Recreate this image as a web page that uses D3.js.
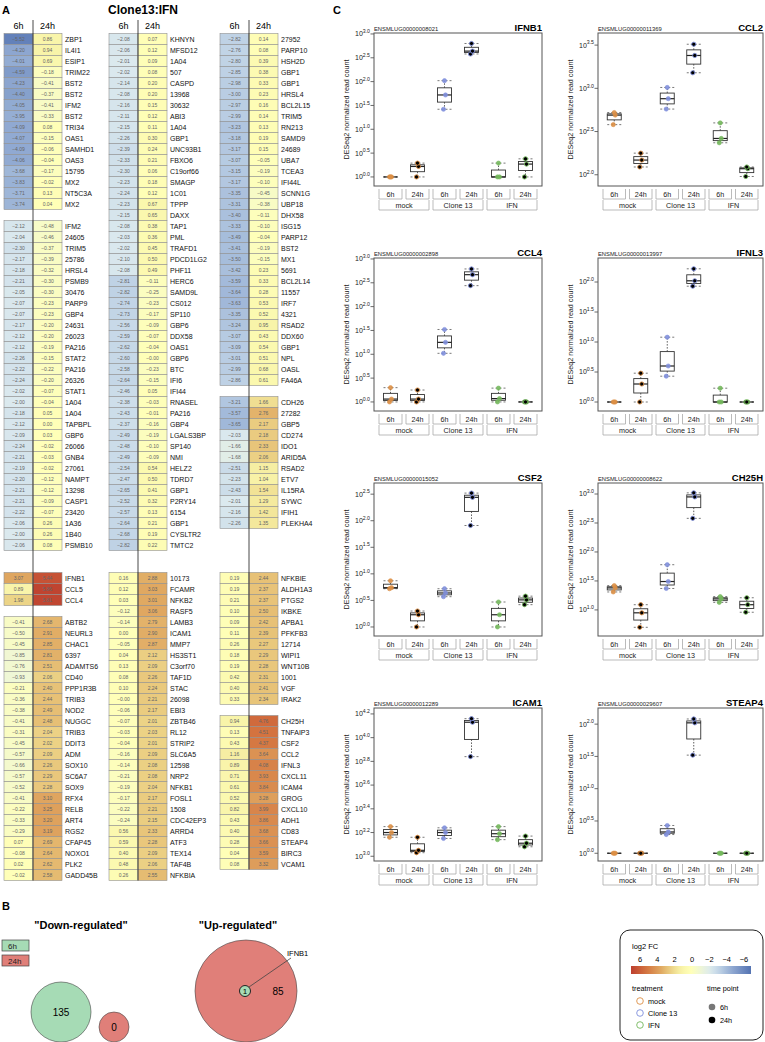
<!DOCTYPE html>
<html><head><meta charset="utf-8">
<script src="https://cdn.jsdelivr.net/npm/d3@7"></script>
<style>body{margin:0;background:#fff} svg{font-family:"Liberation Sans",Arial,sans-serif}</style>
</head><body><svg id="c" width="765" height="1042"></svg>
<script>
// ---------------- DATA ----------------
// Heatmap (log2 FC Clone13 vs IFN), null = blank row
const hmGenes1 = ["ZBP1","IL4I1","ESIP1","TRIM22","BST2","BST2","IFM2","BST2","TRI34","OAS1","SAMHD1","OAS3","15795","MX2","NT5C3A","MX2", null,
"IFM2","24605","TRIM5","25786","HRSL4","PSMB9","30476","PARP9","GBP4","24631","26023","PA216","STAT2","PA216","26326","STAT1","1A04","1A04","TAPBPL","GBP6","26066","GNB4","27061","NAMPT","13298","CASP1","23420","1A36","1B40","PSMB10", null, null,
"IFNB1","CCL5","CCL4", null,
"ABTB2","NEURL3","CHAC1","6397","ADAMTS6","CD40","PPP1R3B","TRIB3","NOD2","NUGGC","TRIB3","DDIT3","ADM","SOX10","SC6A7","SOX9","RFX4","RELB","ART4","RGS2","CFAP45","NOXO1","PLK2","GADD45B"];
const hmFc6h1 = [-5.52,-4.20,-4.01,-4.59,-4.23,-4.40,-4.05,-3.95,-4.09,-4.07,-4.09,-4.06,-3.68,-3.83,-3.71,-3.74, null,
-2.12,-2.04,-2.30,-2.17,-2.18,-2.21,-2.05,-2.07,-2.07,-2.17,-2.12,-2.12,-2.26,-2.22,-2.24,-2.02,-2.00,-2.18,-2.12,-2.09,-2.24,-2.21,-2.19,-2.20,-2.21,-2.21,-2.22,-2.06,-2.00,-2.06, null, null,
3.07,0.89,1.98, null,
-0.41,-0.50,-0.45,-0.85,-0.76,-0.93,-0.21,-0.36,-0.38,-0.41,-0.31,-0.45,-0.57,-0.66,-0.57,-0.52,-0.41,-0.22,-0.33,-0.29,0.07,-0.08,0.02,-0.02];
const hmFc24h1 = [0.86,0.94,0.69,-0.18,-0.41,-0.37,-0.41,-0.33,0.08,-0.15,-0.06,-0.04,-0.17,-0.02,0.13,0.04, null,
-0.48,-0.46,-0.37,-0.39,-0.32,-0.30,-0.30,-0.23,-0.23,-0.20,-0.20,-0.19,-0.15,-0.22,-0.20,-0.07,-0.04,0.05,0.00,0.03,-0.02,-0.03,-0.02,-0.12,-0.12,-0.09,-0.07,0.26,0.26,0.08, null, null,
5.44,5.86,5.81, null,
2.68,2.91,2.85,2.81,2.51,2.06,2.40,2.44,2.49,2.48,2.04,2.02,2.09,2.26,2.29,2.28,3.10,3.25,3.20,3.19,2.69,2.64,2.62,2.58];

const hmGenes2 = ["KHNYN","MFSD12","1A04","507","CASPD","13968","30632","ABI3","1A04","GBP1","UNC93B1","FBXO6","C19orf66","SMAGP","1C01","TPPP","DAXX","TAP1","PML","TRAFD1","PDCD1LG2","PHF11","HERC6","SAMD9L","CS012","SP110","GBP6","DDX58","OAS1","GBP6","BTC","IFI6","IFI44","RNASEL","PA216","GBP4","LGALS3BP","SP140","NMI","HELZ2","TDRD7","GBP1","P2RY14","6154","GBP1","CYSLTR2","TMTC2", null, null,
"10173","FCAMR","NFKB2","RASF5","LAMB3","ICAM1","MMP7","HS3ST1","C3orf70","TAF1D","STAC","26098","EBI3","ZBTB46","RL12","STRIP2","SLC6A5","12598","NRP2","NFKB1","FOSL1","1508","CDC42EP3","ARRD4","ATF3","TEX14","TAF4B","NFKBIA"];
const hmFc6h2 = [-2.08,-2.06,-2.01,-2.02,-2.14,-2.08,-2.16,-2.11,-2.15,-2.26,-2.39,-2.33,-2.30,-2.23,-2.24,-2.23,-2.15,-2.08,-2.03,-2.02,-2.10,-2.08,-2.81,-2.82,-2.74,-2.73,-2.56,-2.59,-2.62,-2.60,-2.58,-2.64,-2.46,-2.38,-2.43,-2.37,-2.49,-2.48,-2.49,-2.54,-2.47,-2.65,-2.52,-2.57,-2.64,-2.68,-2.82, null, null,
0.16,0.12,0.03,-0.12,-0.14,0.00,-0.05,0.04,0.13,0.08,0.10,-0,-0.06,-0.07,-0.03,-0.04,-0.16,-0.14,-0.21,-0.19,-0.17,-0.22,-0.24,0.56,0.59,0.40,0.48,0.26];
const hmFc24h2 = [0.07,0.12,0.09,0.08,0.20,0.20,0.15,0.12,0.11,0.30,0.24,0.21,0.06,0.18,0.12,0.67,0.65,0.38,0.36,0.45,0.50,0.49,-0.11,-0.25,-0.23,-0.17,-0.09,-0.07,-0.04,-0,-0.23,-0.15,0.05,-0.03,-0.01,-0.16,-0.19,-0.10,-0.09,0.54,0.50,0.41,0.32,0.13,0.21,0.19,0.22, null, null,
2.88,3.03,3.01,3.06,2.79,2.90,2.87,2.12,2.09,2.26,2.24,2.21,2.17,2.01,2.03,2.01,2.09,2.08,2.08,2.04,2.17,2.21,2.15,2.33,2.28,2.09,2.06,2.55];

const hmGenes3 = ["27952","PARP10","HSH2D","GBP1","GBP1","HRSL4","BCL2L15","TRIM5","RN213","SAMD9","24689","UBA7","TCEA3","IFI44L","SCNN1G","UBP18","DHX58","ISG15","PARP12","BST2","MX1","5691","BCL2L14","11557","IRF7","4321","RSAD2","DDX60","GBP1","NPL","OASL","FA46A", null,
"CDH26","27282","GBP5","CD274","IDO1","ARID5A","RSAD2","ETV7","IL15RA","SYWC","IFIH1","PLEKHA4", null, null, null, null,
"NFKBIE","ALDH1A3","PTGS2","IKBKE","APBA1","PFKFB3","12714","WIPI1","WNT10B","1001","VGF","IRAK2", null,
"CH25H","TNFAIP3","CSF2","CCL2","IFNL3","CXCL11","ICAM4","GROG","CXCL10","ADH1","CD83","STEAP4","BIRC3","VCAM1"];
const hmFc6h3 = [-2.82,-2.76,-2.80,-2.85,-2.98,-3.00,-2.97,-2.99,-3.23,-3.18,-3.17,-3.07,-3.15,-3.17,-3.35,-3.31,-3.40,-3.33,-3.49,-3.41,-3.50,-3.42,-3.59,-3.64,-3.63,-3.35,-3.24,-3.07,-3.09,-3.01,-2.99,-2.86, null,
-3.21,-3.57,-3.65,-2.03,-1.66,-1.68,-2.51,-2.23,-2.43,-2.01,-2.16,-2.26, null, null, null, null,
0.19,0.19,0.21,0.10,0.09,0.11,0.26,0.18,0.19,0.42,0.40,0.33, null,
0.94,0.13,0.43,1.16,0.89,0.71,0.61,0.52,0.82,0.43,0.40,0.28,0.04,0.08];
const hmFc24h3 = [0.14,0.08,0.39,0.38,0.33,0.23,0.16,0.14,0.13,0.19,0.15,-0.05,-0.19,-0.10,-0.45,-0.38,-0.11,-0.10,-0.04,-0.19,-0.15,0.23,0.33,0.28,0.53,0.52,0.95,0.43,0.54,0.51,0.68,0.61, null,
1.66,2.76,2.17,2.18,2.33,2.06,1.15,1.04,1.54,1.29,1.42,1.35, null, null, null, null,
2.44,2.37,2.37,2.50,2.42,2.39,2.27,2.29,2.28,2.31,2.41,2.34, null,
4.76,4.51,4.37,3.64,4.08,3.93,3.84,3.28,3.99,3.86,3.68,3.66,3.59,3.32];

const hmTimePoints = ["6h", "24h"];
const legendFcTicks = [6, 4, 2, 0, -2, -4, -6];

// Box plot panels: log10 DESeq2 normalized read counts, 3 replicates per group
const treatments = ["mock", "Clone 13", "IFN"];
const timePoints = ["6h", "24h"];
const panelNames = ["IFNB1","CCL2","CCL4","IFNL3","CSF2","CH25H","ICAM1","STEAP4"];
const panelIds = ["ENSMLUG00000008021","ENSMLUG00000011369","ENSMLUG00000002898","ENSMLUG00000013997","ENSMLUG00000015052","ENSMLUG00000008622","ENSMLUG00000012289","ENSMLUG00000029607"];
const panelYMin = [-0.19, 1.87, -0.19, -0.15, -0.17, 0.55, 2.96, -0.12];
const panelYMax = [3.02, 3.64, 3.02, 2.40, 2.71, 3.19, 4.25, 2.25];
const panelTicks = [
  [0,0.5,1,1.5,2,2.5,3],
  [2,2.5,3,3.5],
  [0,0.5,1,1.5,2,2.5,3],
  [0,0.5,1,1.5,2],
  [0,0.5,1,1.5,2,2.5],
  [1,1.5,2,2.5,3],
  [3,3.2,3.4,3.6,3.8,4,4.2],
  [0,0.5,1,1.5,2]
];
// group order: mock 6h, mock 24h, Clone13 6h, Clone13 24h, IFN 6h, IFN 24h
const valsIFNB1 = [[0,0,0],[0,0.22,0.29],[1.42,1.72,2.02],[2.58,2.64,2.80],[0,0,0.29],[0,0.27,0.38]];
const valsCCL2  = [[2.58,2.69,2.72],[2.09,2.17,2.25],[2.76,2.88,3.01],[3.18,3.38,3.51],[2.37,2.42,2.60],[1.98,2.07,2.09]];
const valsCCL4  = [[0,0.06,0.30],[0,0.06,0.25],[1.02,1.25,1.52],[2.44,2.67,2.79],[0,0.07,0.29],[0,0,0]];
const valsIFNL3 = [[0,0,0],[0,0.30,0.48],[0.43,0.60,1.08],[1.93,2.02,2.22],[0,0,0.23],[0,0,0]];
const valsCSF2  = [[0.72,0.74,0.87],[0,0.23,0.30],[0.57,0.64,0.72],[1.91,2.44,2.52],[0,0.23,0.47],[0.42,0.51,0.58]];
const valsCH25H = [[1.31,1.38,1.42],[0.70,0.95,1.09],[1.37,1.49,1.78],[2.58,2.95,3.02],[1.13,1.19,1.23],[0.96,1.09,1.21]];
const valsICAM1 = [[3.16,3.20,3.25],[3.03,3.05,3.16],[3.15,3.20,3.24],[3.84,4.13,4.16],[3.14,3.19,3.25],[3.08,3.11,3.17]];
const valsSTEAP4= [[0,0,0],[0,0,0],[0.29,0.33,0.43],[1.52,2.02,2.08],[0,0,0],[0,0,0]];
const panelVals = [valsIFNB1, valsCCL2, valsCCL4, valsIFNL3, valsCSF2, valsCH25H, valsICAM1, valsSTEAP4];

// Venn counts
const vennDownLabels = ["6h", "24h"];
const vennDown = [135, 0];
const vennUp6h = 1, vennUp24h = 85;
const vennUpSharedGene = "IFNB1";

// ---------------- DRAWING ----------------
const svg = d3.select("#c");
const treatColors = ["#dc8f45", "#7f8fdb", "#74b85c"];
const fcColor = d3.scaleLinear()
  .domain([6, 4.5, 3, 2, 1, 0, -1, -2, -3, -4, -6])
  .range(["#bd3f2f","#d4733f","#e0a962","#ecd386","#f8f3a8","#ffffb8","#eef6d8","#dbe9ee","#b9cde3","#93acd3","#5473b2"])
  .clamp(true);
function fmtFC(v){ const neg = v < 0 || Object.is(v, -0); return (neg ? "\u2212" : "") + Math.abs(v).toFixed(2); }

// panel letters & title
svg.append("text").attr("x",2).attr("y",14).attr("font-size",11).attr("font-weight","bold").text("A");
svg.append("text").attr("x",333).attr("y",14).attr("font-size",11).attr("font-weight","bold").text("C");
svg.append("text").attr("x",2).attr("y",910).attr("font-size",11).attr("font-weight","bold").text("B");
svg.append("text").attr("x",143).attr("y",14).attr("text-anchor","middle").attr("font-size",12).attr("font-weight","bold").text("Clone13:IFN");

// heatmap
const nRows = 77;
const rowY = d3.scaleBand().domain(d3.range(nRows)).range([33.5, 33.5 + nRows*11]);
const hmCols = [[hmGenes1,hmFc6h1,hmFc24h1],[hmGenes2,hmFc6h2,hmFc24h2],[hmGenes3,hmFc6h3,hmFc24h3]];
const colX0 = [4, 109, 220];
const cellX = d3.scaleBand().domain(hmTimePoints).range([0, 58]);
hmCols.forEach(([genes, a, b], ci) => {
  const g = svg.append("g").attr("transform", `translate(${colX0[ci]},0)`);
  let lastRow = 0;
  genes.forEach((gene, i) => {
    if (gene === null) return;
    lastRow = i;
    const y = rowY(i);
    [a[i], b[i]].forEach((v, j) => {
      const tp = hmTimePoints[j];
      g.append("rect").attr("x", cellX(tp)).attr("y", y).attr("width", cellX.bandwidth()).attr("height", rowY.bandwidth())
        .attr("fill", fcColor(v)).attr("stroke", "#8f8f8f").attr("stroke-width", 0.6);
      g.append("text").attr("x", cellX(tp) + cellX.bandwidth()/2).attr("y", y + 7.3).attr("text-anchor","middle")
        .attr("font-size", 5).attr("fill", "#666").text(fmtFC(v));
    });
    g.append("text").attr("x", 61).attr("y", y + 8.3).attr("font-size", 7).attr("fill","#111").text(gene);
  });
  hmTimePoints.forEach(tp => {
    g.append("text").attr("x", cellX(tp) + cellX.bandwidth()/2).attr("y", 29).attr("text-anchor","middle").attr("font-size", 9).text(tp);
  });
  g.append("line").attr("x1", cellX("24h")).attr("x2", cellX("24h")).attr("y1", 20).attr("y2", rowY(lastRow) + rowY.bandwidth())
    .attr("stroke", "#333").attr("stroke-width", 0.9);
});

// box plot panels
const colBox = [[374, 542], [598, 763]];
const rowTop = [33, 258, 483, 708];
const boxH = 153;
const groupKeys = [];
treatments.forEach(t => timePoints.forEach(tp => groupKeys.push(t + "|" + tp)));
function fivenum(arr){
  const s = arr.slice().sort((p,q)=>p-q); const n = s.length;
  const n4 = Math.floor((n+3)/2)/2;
  return [1, n4, (n+1)/2, n+1-n4, n].map(k => 0.5*(s[Math.floor(k)-1] + s[Math.ceil(k)-1]));
}
const jitter = [-1, 1, 0];
panelNames.forEach((name, pi) => {
  const cx = pi % 2, ry = Math.floor(pi / 2);
  const [x0, x1] = colBox[cx];
  const top = rowTop[ry], bot = top + boxH;
  const g = svg.append("g");
  const x = d3.scaleBand().domain(groupKeys).range([x0 + 3, x1 - 3]);
  const y = d3.scaleLinear().domain([panelYMin[pi], panelYMax[pi]]).range([bot, top]);
  // title & id
  g.append("text").attr("x", x1).attr("y", top - 2).attr("text-anchor","end").attr("font-size", 9.5).attr("font-weight","bold").text(name);
  g.append("text").attr("x", x0).attr("y", top - 2.5).attr("font-size", 5.8).attr("fill","#222").text(panelIds[pi]);
  // y axis title
  g.append("text").attr("transform", `translate(${x0 - 25},${(top+bot)/2}) rotate(-90)`).attr("text-anchor","middle")
    .attr("font-size", 7.2).attr("fill","#222").text("DESeq2 normalized read count");
  // ticks
  panelTicks[pi].forEach(t => {
    const ty = y(t);
    g.append("line").attr("x1", x0 - 3.5).attr("x2", x0).attr("y1", ty).attr("y2", ty).attr("stroke","#444").attr("stroke-width",0.8);
    const tx = g.append("text").attr("x", x0 - 4).attr("y", ty + 2.4).attr("text-anchor","end").attr("fill","#222");
    tx.append("tspan").attr("font-size", 7).text("10");
    tx.append("tspan").attr("font-size", 5.2).attr("dy", -3.2).text(t.toFixed(1));
  });
  // frame
  g.append("rect").attr("x", x0).attr("y", top).attr("width", x1 - x0).attr("height", boxH)
    .attr("fill","none").attr("stroke","#555").attr("stroke-width",1);
  // boxes
  const vals = panelVals[pi];
  groupKeys.forEach((k, gi) => {
    const [mn, q1, md, q3, mx] = fivenum(vals[gi]);
    const c = x(k) + x.bandwidth()/2;
    const bw = 14;
    // whiskers
    g.append("line").attr("x1", c).attr("x2", c).attr("y1", y(q3)).attr("y2", y(mx)).attr("stroke","#333").attr("stroke-width",0.8).attr("stroke-dasharray","1.5,1.5");
    g.append("line").attr("x1", c).attr("x2", c).attr("y1", y(q1)).attr("y2", y(mn)).attr("stroke","#333").attr("stroke-width",0.8).attr("stroke-dasharray","1.5,1.5");
    [mn, mx].forEach(v => {
      g.append("line").attr("x1", c - bw/2).attr("x2", c + bw/2).attr("y1", y(v)).attr("y2", y(v)).attr("stroke","#555").attr("stroke-width",0.8).attr("stroke-dasharray","2,2");
    });
    g.append("rect").attr("x", c - bw/2).attr("y", y(q3)).attr("width", bw).attr("height", Math.max(0, y(q1) - y(q3)))
      .attr("fill","#fff").attr("fill-opacity",0.6).attr("stroke","#333").attr("stroke-width",0.9);
    g.append("line").attr("x1", c - bw/2).attr("x2", c + bw/2).attr("y1", y(md)).attr("y2", y(md)).attr("stroke","#222").attr("stroke-width",1.2);
    // points
    const tcol = treatColors[Math.floor(gi/2)];
    const is24 = gi % 2 === 1;
    vals[gi].forEach((v, r) => {
      g.append("circle").attr("cx", c + jitter[r]).attr("cy", y(v)).attr("r", 2.1)
        .attr("fill", is24 ? "#000" : tcol).attr("fill-opacity", is24 ? 1 : 0.9)
        .attr("stroke", tcol).attr("stroke-width", is24 ? 0.9 : 0.6);
    });
  });
  // x brackets
  const yb1 = bot + 3, yb2 = bot + 13, yb3 = bot + 14, yb4 = bot + 24;
  groupKeys.forEach(k => {
    const bx0 = x(k) + 2, bx1 = x(k) + x.bandwidth() - 2;
    g.append("path").attr("d", `M${bx0},${yb1}V${yb2}H${bx1}V${yb1}`).attr("fill","none").attr("stroke","#aaa").attr("stroke-width",0.8);
    g.append("text").attr("x", (bx0+bx1)/2).attr("y", yb1 + 7.5).attr("text-anchor","middle").attr("font-size",7.2).attr("fill","#222").text(k.split("|")[1]);
  });
  treatments.forEach(t => {
    const bx0 = x(t + "|6h") + 2, bx1 = x(t + "|24h") + x.bandwidth() - 2;
    g.append("path").attr("d", `M${bx0},${yb3}V${yb4}H${bx1}V${yb3}`).attr("fill","none").attr("stroke","#aaa").attr("stroke-width",0.8);
    g.append("text").attr("x", (bx0+bx1)/2).attr("y", yb3 + 7.5).attr("text-anchor","middle").attr("font-size",7.2).attr("fill","#222").text(t);
  });
});

// Venn diagrams (B)
const vennGreen = "#a6dbb5", vennRed = "#e07f79";
svg.append("text").attr("x",81).attr("y",929).attr("text-anchor","middle").attr("font-size",11).attr("font-weight","bold").text("\"Down-regulated\"");
svg.append("text").attr("x",238).attr("y",929).attr("text-anchor","middle").attr("font-size",11).attr("font-weight","bold").text("\"Up-regulated\"");
[vennGreen, vennRed].forEach((col, i) => {
  svg.append("rect").attr("x",2).attr("y",940 + i*15).attr("width",27).attr("height",11).attr("fill",col).attr("stroke","#444").attr("stroke-width",0.7);
  svg.append("text").attr("x",8).attr("y",949 + i*15).attr("font-size",8).attr("fill","#222").text(vennDownLabels[i]);
});
const rScale = d3.scaleSqrt().domain([0, 135]).range([0, 30]);
svg.append("circle").attr("cx",61).attr("cy",1012).attr("r",rScale(vennDown[0])).attr("fill",vennGreen).attr("stroke","#444").attr("stroke-width",0.6);
svg.append("text").attr("x",61).attr("y",1016).attr("text-anchor","middle").attr("font-size",10).text(vennDown[0]);
svg.append("circle").attr("cx",114).attr("cy",1027).attr("r",15).attr("fill",vennRed).attr("stroke","#444").attr("stroke-width",0.6);
svg.append("text").attr("x",114).attr("y",1031).attr("text-anchor","middle").attr("font-size",10).text(vennDown[1]);
svg.append("circle").attr("cx",246).attr("cy",991).attr("r",51).attr("fill",vennRed).attr("stroke","#444").attr("stroke-width",0.6);
svg.append("circle").attr("cx",245).attr("cy",991).attr("r",5.5).attr("fill",vennGreen).attr("stroke","#222").attr("stroke-width",1);
svg.append("text").attr("x",245).attr("y",994).attr("text-anchor","middle").attr("font-size",8).text(vennUp6h);
svg.append("text").attr("x",278).attr("y",995).attr("text-anchor","middle").attr("font-size",10).text(vennUp24h);
svg.append("line").attr("x1",249).attr("y1",987).attr("x2",291).attr("y2",958).attr("stroke","#444").attr("stroke-width",0.8);
svg.append("text").attr("x",287).attr("y",956).attr("font-size",7.5).text(vennUpSharedGene);

// Legend
const lg = svg.append("g");
lg.append("rect").attr("x",620).attr("y",930).attr("width",143).attr("height",110).attr("rx",10).attr("fill","#fff").attr("stroke","#222").attr("stroke-width",1);
lg.append("text").attr("x",632).attr("y",949).attr("font-size",7.5).text("log2 FC");
const lx = d3.scaleLinear().domain([6, -6]).range([640, 744]);
const grad = svg.append("defs").append("linearGradient").attr("id","fcgrad").attr("x1","0%").attr("x2","100%");
d3.range(0, 1.0001, 0.05).forEach(f => grad.append("stop").attr("offset", (f*100)+"%").attr("stop-color", fcColor(6 - 12*f)));
lg.append("rect").attr("x",631).attr("y",966).attr("width",120).attr("height",8).attr("fill","url(#fcgrad)");
legendFcTicks.forEach(t => lg.append("text").attr("x", lx(t)).attr("y", 962).attr("text-anchor","middle").attr("font-size",7.5).text(t < 0 ? "\u2212" + Math.abs(t) : t));
lg.append("text").attr("x",632).attr("y",991).attr("font-size",7.3).text("treatment");
lg.append("text").attr("x",707).attr("y",991).attr("font-size",7.3).text("time point");
treatments.forEach((t, i) => {
  lg.append("circle").attr("cx",640).attr("cy",1001 + i*12).attr("r",3.3).attr("fill","none").attr("stroke",treatColors[i]).attr("stroke-width",0.9);
  lg.append("text").attr("x",648).attr("y",1003.5 + i*12).attr("font-size",7.3).text(t);
});
timePoints.forEach((tp, i) => {
  lg.append("circle").attr("cx",712).attr("cy",1007 + i*13).attr("r",3.3).attr("fill", i ? "#000" : "#777");
  lg.append("text").attr("x",720).attr("y",1009.5 + i*13).attr("font-size",7.3).text(tp);
});
</script>
</body></html>
